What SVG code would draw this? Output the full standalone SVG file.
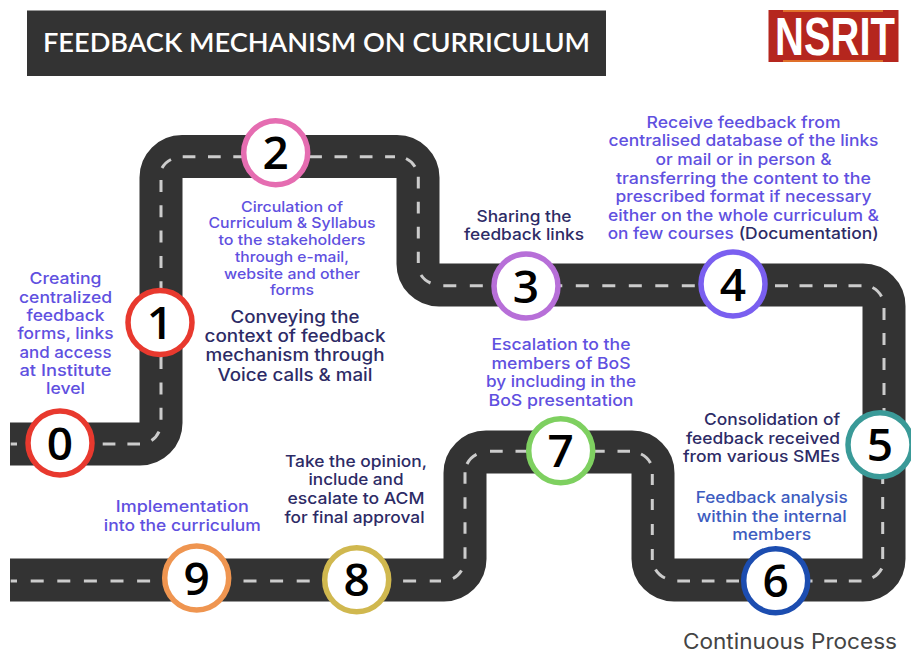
<svg xmlns="http://www.w3.org/2000/svg" xmlns:xlink="http://www.w3.org/1999/xlink" width="911" height="654" viewBox="0 0 911 654">
<style>
text{font-family:"Inter","Liberation Sans",sans-serif;font-weight:500;text-anchor:middle}
.v{fill:#6050e0}.d{fill:#2d2b66}.b{fill:#3d5cc0}
.s15{font-size:14.5px}.s16{font-size:16px}.s18{font-size:17px}
.road{fill:none;stroke:#333;stroke-width:43}
.dash{fill:none;stroke:#ccc;stroke-width:3}
.ring{fill:#fff;stroke-width:5.5}
.num{font-family:"Open Sans","DejaVu Sans",sans-serif;font-weight:600;font-size:46px;fill:#000}
</style>
<defs><path id="route" d="M10 444H140A21 21 0 0 0 161 423V177.500A21 21 0 0 1 182 156.500H397A21 21 0 0 1 418 177.500V264A21 21 0 0 0 439 285H863A21 21 0 0 1 884 306V559A21 21 0 0 1 863 580H674A21 21 0 0 1 653 559V473A21 21 0 0 0 632 452H486A21 21 0 0 0 465 473V559A21 21 0 0 1 444 580H10"/></defs>
<rect width="911" height="654" fill="#fff"/>
<g id="title"><rect x="27" y="10.500" width="579" height="65.500" fill="#333"/>
<text x="316.500" y="51.500" textLength="547" lengthAdjust="spacingAndGlyphs" style="font-family:Lato,'Liberation Sans',sans-serif;font-size:27.500px;font-weight:600;fill:#fff">FEEDBACK MECHANISM ON CURRICULUM</text></g>
<g id="logo"><rect x="768.500" y="10" width="130" height="52" fill="#b5261e"/><rect x="783" y="10" width="100" height="2" fill="#e0702a"/><rect x="783" y="60" width="100" height="2" fill="#e0702a"/>
<text transform="translate(835 55) scale(1 1.600)" x="0" y="0" textLength="120" lengthAdjust="spacingAndGlyphs" style="font-family:'Liberation Sans',sans-serif;font-weight:700;font-size:34px;fill:#fff">NSRIT</text></g>
<g id="connectors"><use xlink:href="#route" href="#route" class="road"/>
<g class="dash">
<path d="M10.700 444H17"/>
<path d="M102.700 444H140" stroke-dasharray="12.700 12"/>
<path d="M151.500 440.600A21 21 0 0 0 159 431.700"/>
<path d="M161 180V421" stroke-dasharray="12 13.300"/>
<path d="M162 168A21 21 0 0 1 171 159.500"/>
<path d="M182.700 156.700H395" stroke-dasharray="12.700 12.600"/>
<path d="M406 158.500A21 21 0 0 1 415 166.700"/>
<path d="M418.300 176.700V263" stroke-dasharray="11.700 13.300"/>
<path d="M421 275A21 21 0 0 0 430.500 283"/>
<path d="M443.300 285.700H695" stroke-dasharray="13 13.500"/>
<path d="M775 285.700H862" stroke-dasharray="13 11.500"/>
<path d="M872.500 287.500A21 21 0 0 1 881.500 296.500"/>
<path d="M884 308V420" stroke-dasharray="12 13"/>
<path d="M882.700 472V559" stroke-dasharray="12 13"/>
<path d="M881.700 568.500A21 21 0 0 1 872.500 577.700"/>
<path d="M677.300 581H865" stroke-dasharray="12.700 11.800"/>
<path d="M655.500 569.500A21 21 0 0 0 665 578"/>
<path d="M652.300 474V560" stroke-dasharray="11 14"/>
<path d="M641 454A21 21 0 0 1 650.500 463"/>
<path d="M490 451.300H630" stroke-dasharray="12.700 12.800"/>
<path d="M467 464A21 21 0 0 1 476.500 454.300"/>
<path d="M465 472.300V559" stroke-dasharray="11.500 13.500"/>
<path d="M461.500 570.500A21 21 0 0 1 453 578.500"/>
<path d="M30.700 581H441" stroke-dasharray="13 13.600"/>
<path d="M10.700 581H17"/>
</g></g>
<g id="node0"><circle class="ring" cx="60" cy="443" r="32" stroke="#e8392e"/><text class="num" x="60" y="459.500">0</text>
<g class="v s16"><text lengthAdjust="spacingAndGlyphs" x="65.500" y="284" textLength="72">Creating</text><text lengthAdjust="spacingAndGlyphs" x="65.500" y="302.500" textLength="93">centralized</text><text lengthAdjust="spacingAndGlyphs" x="65.500" y="320.500" textLength="78">feedback</text><text lengthAdjust="spacingAndGlyphs" x="65.500" y="339" textLength="96">forms, links</text><text lengthAdjust="spacingAndGlyphs" x="65.500" y="357.500" textLength="92">and access</text><text lengthAdjust="spacingAndGlyphs" x="65.500" y="375.700" textLength="92">at Institute</text><text lengthAdjust="spacingAndGlyphs" x="65.500" y="394" textLength="39">level</text></g></g>
<g id="node1"><circle class="ring" cx="160" cy="322.500" r="32" stroke="#e8392e"/><text class="num" x="160" y="339">1</text>
<g class="d s18"><text lengthAdjust="spacingAndGlyphs" x="295" y="322.500" textLength="129">Conveying the</text><text lengthAdjust="spacingAndGlyphs" x="295" y="341.500" textLength="181">context of feedback</text><text lengthAdjust="spacingAndGlyphs" x="295" y="361" textLength="179">mechanism through</text><text lengthAdjust="spacingAndGlyphs" x="295" y="380.500" textLength="155">Voice calls &amp; mail</text></g></g>
<g id="node2"><circle class="ring" cx="275.700" cy="152.700" r="32" stroke="#e56db1"/><text class="num" x="275.700" y="169.200">2</text>
<g class="v s15"><text lengthAdjust="spacingAndGlyphs" x="292" y="211.700" textLength="102">Circulation of</text><text lengthAdjust="spacingAndGlyphs" x="292" y="228.300" textLength="167">Curriculum &amp; Syllabus</text><text lengthAdjust="spacingAndGlyphs" x="292" y="245" textLength="147">to the stakeholders</text><text lengthAdjust="spacingAndGlyphs" x="292" y="262" textLength="114">through e-mail,</text><text lengthAdjust="spacingAndGlyphs" x="292" y="278.700" textLength="136">website and other</text><text lengthAdjust="spacingAndGlyphs" x="292" y="295.300" textLength="44">forms</text></g></g>
<g id="node3"><circle class="ring" cx="526" cy="286" r="32" stroke="#b76fd8"/><text class="num" x="526" y="302.500">3</text>
<g class="d s16"><text lengthAdjust="spacingAndGlyphs" x="524" y="221.700" textLength="95">Sharing the</text><text lengthAdjust="spacingAndGlyphs" x="524" y="240.300" textLength="120">feedback links</text></g></g>
<g id="node4"><circle class="ring" cx="733" cy="284" r="32" stroke="#7a5ff0"/><text class="num" x="733" y="300.500">4</text>
<g class="v s16"><text lengthAdjust="spacingAndGlyphs" x="743.500" y="127.700" textLength="194">Receive feedback from</text><text lengthAdjust="spacingAndGlyphs" x="743.500" y="146.300" textLength="270">centralised database of the links</text><text lengthAdjust="spacingAndGlyphs" x="743.500" y="165.300" textLength="176">or mail or in person &amp;</text><text lengthAdjust="spacingAndGlyphs" x="743.500" y="183.700" textLength="255">transferring the content to the</text><text lengthAdjust="spacingAndGlyphs" x="743.500" y="202" textLength="256">prescribed format if necessary</text><text lengthAdjust="spacingAndGlyphs" x="743.500" y="220.700" textLength="271">either on the whole curriculum &amp;</text><text lengthAdjust="spacingAndGlyphs" x="670.700" y="239.300" textLength="126">on few courses</text></g>
<text class="d s16" lengthAdjust="spacingAndGlyphs" x="808.700" y="239.300" textLength="140">(Documentation)</text></g>
<g id="node5"><circle class="ring" cx="880" cy="444.700" r="32" stroke="#3a9a98"/><text class="num" x="880" y="461.200">5</text>
<g class="d s16"><text lengthAdjust="spacingAndGlyphs" x="772" y="425.300" textLength="136">Consolidation of</text><text lengthAdjust="spacingAndGlyphs" x="763" y="444" textLength="154">feedback received</text><text lengthAdjust="spacingAndGlyphs" x="761.500" y="462.300" textLength="157">from various SMEs</text></g></g>
<g id="node6"><circle class="ring" cx="775.700" cy="580.700" r="32" stroke="#1c4db0"/><text class="num" x="775.700" y="597.200">6</text>
<g class="b s16"><text lengthAdjust="spacingAndGlyphs" x="771.700" y="503" textLength="152">Feedback analysis</text><text lengthAdjust="spacingAndGlyphs" x="771.700" y="521.700" textLength="150">within the internal</text><text lengthAdjust="spacingAndGlyphs" x="771.700" y="540.300" textLength="79">members</text></g></g>
<g id="node7"><circle class="ring" cx="560.700" cy="450.700" r="32" stroke="#7ed060"/><text class="num" x="560.700" y="467.200">7</text>
<g class="v s16"><text lengthAdjust="spacingAndGlyphs" x="561" y="350" textLength="139">Escalation to the</text><text lengthAdjust="spacingAndGlyphs" x="561" y="368.700" textLength="139">members of BoS</text><text lengthAdjust="spacingAndGlyphs" x="561" y="387.300" textLength="150">by including in the</text><text lengthAdjust="spacingAndGlyphs" x="561" y="405.700" textLength="145">BoS presentation</text></g></g>
<g id="node8"><circle class="ring" cx="356.700" cy="579.700" r="32" stroke="#d0b84f"/><text class="num" x="356.700" y="596.200">8</text>
<g class="d s16"><text lengthAdjust="spacingAndGlyphs" x="356" y="466.700" textLength="142">Take the opinion,</text><text lengthAdjust="spacingAndGlyphs" x="356" y="485.300" textLength="95">include and</text><text lengthAdjust="spacingAndGlyphs" x="356" y="504" textLength="137">escalate to ACM</text><text lengthAdjust="spacingAndGlyphs" x="354.500" y="522.700" textLength="140">for final approval</text></g></g>
<g id="node9"><circle class="ring" cx="196.700" cy="578" r="32" stroke="#ef9550"/><text class="num" x="196.700" y="594.500">9</text>
<g class="v s16"><text lengthAdjust="spacingAndGlyphs" x="182.300" y="512.300" textLength="133">Implementation</text><text lengthAdjust="spacingAndGlyphs" x="182.300" y="531" textLength="157">into the curriculum</text></g></g>
<text lengthAdjust="spacingAndGlyphs" x="790" y="648.700" textLength="214" style="font-size:21.500px;font-weight:400;fill:#444">Continuous Process</text>
</svg>
